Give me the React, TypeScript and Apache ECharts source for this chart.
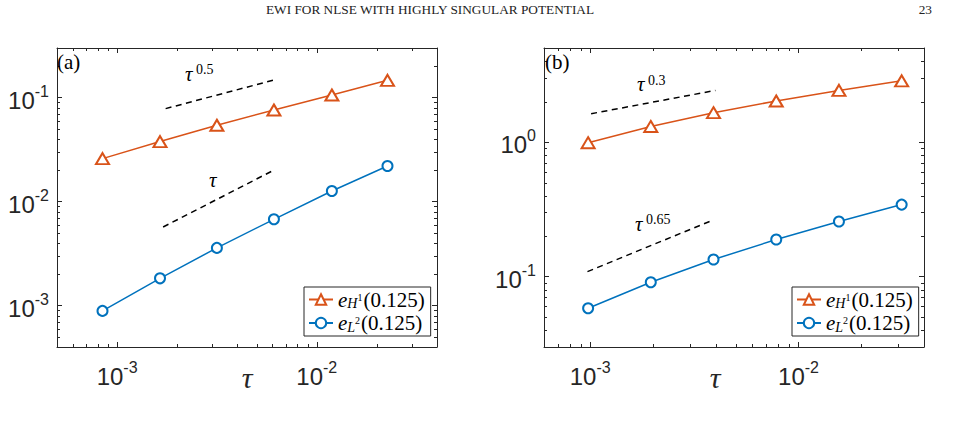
import React, { useEffect, useRef } from 'react';
import * as echarts from 'echarts';

// ---------- data ----------
const tauA = [8.45e-4, 1.64e-3, 3.16e-3, 6.1e-3, 1.19e-2, 2.26e-2];
const errH1A = [0.0259, 0.0378, 0.0542, 0.076, 0.106, 0.1466];
const errL2A = [8.9e-4, 1.83e-3, 3.59e-3, 6.76e-3, 0.01264, 0.022];

const tauB = [9.77e-4, 1.953e-3, 3.906e-3, 7.813e-3, 1.5625e-2, 3.125e-2];
const errH1B = [0.989, 1.306, 1.653, 2.02, 2.42, 2.85];
const errL2B = [0.0582, 0.0908, 0.134, 0.1886, 0.2566, 0.343];

// reference slope lines [tau, value]
const refA_half = [[1.75e-3, 0.0784], [6.1e-3, 0.1476]];
const refA_one = [[1.7e-3, 5.7e-3], [6.1e-3, 0.0201]];
const refB_03 = [[1.01e-3, 1.624], [3.99e-3, 2.42]];
const refB_065 = [[9.7e-4, 0.109], [3.9e-3, 0.264]];

// axis ranges
const xRangeA = [5e-4, 0.04];
const yRangeA = [4e-4, 0.3];
const xRangeB = [6e-4, 0.04];
const yRangeB = [0.03, 5];

// minor tick positions
const minorXA = [6e-4, 7e-4, 8e-4, 9e-4, 2e-3, 3e-3, 4e-3, 5e-3, 6e-3, 7e-3, 8e-3, 9e-3, 2e-2, 3e-2];
const minorYA = [5e-4, 6e-4, 7e-4, 8e-4, 9e-4, 2e-3, 3e-3, 4e-3, 5e-3, 6e-3, 7e-3, 8e-3, 9e-3,
  2e-2, 3e-2, 4e-2, 5e-2, 6e-2, 7e-2, 8e-2, 9e-2, 2e-1];
const minorXB = [7e-4, 8e-4, 9e-4, 2e-3, 3e-3, 4e-3, 5e-3, 6e-3, 7e-3, 8e-3, 9e-3, 2e-2, 3e-2];
const minorYB = [4e-2, 5e-2, 6e-2, 7e-2, 8e-2, 9e-2, 0.2, 0.3, 0.4, 0.5, 0.6, 0.7, 0.8, 0.9, 2, 3, 4];

const legendNames: Record<string, string> = {
  H1a: '{e|e}{sub|H}{sup|1}{t|(0.125)}',
  L2a: '{e|e}{sub|L}{sup|2}{t|(0.125)}',
  H1b: '{e|e}{sub|H}{sup|1}{t|(0.125)}',
  L2b: '{e|e}{sub|L}{sup|2}{t|(0.125)}',
};

// ---------- styles ----------
const ORANGE = '#D95319';
const BLUE = '#0072BD';
const AX = '#262626';
const SANS = 'Liberation Sans, Arial, Helvetica, sans-serif';
const SERIF = 'Liberation Serif, Times New Roman, serif';

const zip = (xs: number[], ys: number[]) => xs.map((x, i) => [x, ys[i]]);

const powFmt = (v: number) => {
  const l = Math.log10(v);
  const e = Math.round(l);
  if (Math.abs(l - e) > 1e-6) return '';
  return `{b|10}{s|${e}}`;
};

const powRich = {
  b: { fontFamily: SANS, fontSize: 24, color: AX, verticalAlign: 'bottom' },
  s: { fontFamily: SANS, fontSize: 16, color: AX, verticalAlign: 'top', padding: [0, 0, 13, 0] },
};

const makeXAxes = (grid: number, range: number[]) => [
  {
    type: 'log', logBase: 10, gridIndex: grid, min: range[0], max: range[1], position: 'bottom',
    axisLine: { show: true, onZero: false, lineStyle: { color: AX, width: 1 } },
    axisTick: { show: true, inside: true, length: 5, lineStyle: { color: AX } },
    axisLabel: { formatter: powFmt, rich: powRich, margin: 12, color: AX },
    splitLine: { show: false },
  },
  {
    type: 'log', logBase: 10, gridIndex: grid, min: range[0], max: range[1], position: 'top',
    axisLine: { show: true, onZero: false, lineStyle: { color: AX, width: 1 } },
    axisTick: { show: true, inside: true, length: 5, lineStyle: { color: AX } },
    axisLabel: { show: false },
    splitLine: { show: false },
  },
];

const makeYAxes = (grid: number, range: number[]) => [
  {
    type: 'log', logBase: 10, gridIndex: grid, min: range[0], max: range[1], position: 'left',
    axisLine: { show: true, onZero: false, lineStyle: { color: AX, width: 1 } },
    axisTick: { show: true, inside: true, length: 5, lineStyle: { color: AX } },
    axisLabel: { formatter: powFmt, rich: powRich, margin: 8, color: AX },
    splitLine: { show: false },
  },
  {
    type: 'log', logBase: 10, gridIndex: grid, min: range[0], max: range[1], position: 'right',
    axisLine: { show: true, onZero: false, lineStyle: { color: AX, width: 1 } },
    axisTick: { show: true, inside: true, length: 5, lineStyle: { color: AX } },
    axisLabel: { show: false },
    splitLine: { show: false },
  },
];

const minorX = (xi: number, yi: number, vals: number[], yRef: number) => ({
  type: 'custom', xAxisIndex: xi, yAxisIndex: yi, silent: true, clip: false, z: 5,
  data: vals.map((v) => [v, yRef]),
  renderItem: (params: any, api: any) => {
    const p = api.coord([api.value(0), api.value(1)]);
    const cs = params.coordSys;
    const x = Math.round(p[0]) + 0.5;
    const st = { stroke: AX, lineWidth: 1 };
    return {
      type: 'group',
      children: [
        { type: 'line', shape: { x1: x, y1: cs.y + cs.height, x2: x, y2: cs.y + cs.height - 3 }, style: st },
        { type: 'line', shape: { x1: x, y1: cs.y, x2: x, y2: cs.y + 3 }, style: st },
      ],
    };
  },
});

const minorY = (xi: number, yi: number, vals: number[], xRef: number) => ({
  type: 'custom', xAxisIndex: xi, yAxisIndex: yi, silent: true, clip: false, z: 5,
  data: vals.map((v) => [xRef, v]),
  renderItem: (params: any, api: any) => {
    const p = api.coord([api.value(0), api.value(1)]);
    const cs = params.coordSys;
    const y = Math.round(p[1]) + 0.5;
    const st = { stroke: AX, lineWidth: 1 };
    return {
      type: 'group',
      children: [
        { type: 'line', shape: { x1: cs.x, y1: y, x2: cs.x + 3, y2: y }, style: st },
        { type: 'line', shape: { x1: cs.x + cs.width, y1: y, x2: cs.x + cs.width - 3, y2: y }, style: st },
      ],
    };
  },
});

const dataSeries = (name: string, xi: number, yi: number, xs: number[], ys: number[], color: string, tri: boolean) => ({
  name, type: 'line', xAxisIndex: xi, yAxisIndex: yi, data: zip(xs, ys),
  symbol: tri ? 'emptyTriangle' : 'emptyCircle',
  symbolSize: tri ? [13, 11] : 10,
  showAllSymbol: true,
  lineStyle: { color, width: 1.5 },
  itemStyle: { color, borderWidth: 1.5 },
  z: 3,
});

const refSeries = (xi: number, yi: number, pts: number[][]) => ({
  type: 'line', xAxisIndex: xi, yAxisIndex: yi, data: pts, symbol: 'none', silent: true,
  lineStyle: { color: '#000', width: 1.5, type: [6, 4.5] },
  z: 2,
});

const legendRich = {
  e: { fontFamily: SERIF, fontStyle: 'italic', fontSize: 21, color: '#000' },
  sub: { fontFamily: SERIF, fontStyle: 'italic', fontSize: 14, color: '#000', padding: [8, 0, 0, 0] },
  sup: { fontFamily: SERIF, fontSize: 10, color: '#000', padding: [0, 1, 5, 0] },
  t: { fontFamily: SERIF, fontSize: 21, color: '#000' },
};

const makeLegend = (left: number, data: string[]) => ({
  orient: 'vertical', left, top: 287, data,
  itemWidth: 24, itemHeight: 13, itemGap: 2, itemTextGap: 3,
  padding: [2, 6, 2, 4],
  borderColor: AX, borderWidth: 1, backgroundColor: '#fff',
  formatter: (n: string) => legendNames[n],
  textStyle: { rich: legendRich },
  selectedMode: false,
});

const txt = (x: number, y: number, text: string, size: number, opts: any = {}) => ({
  type: 'text', x, y, silent: true, z: 10,
  style: {
    text, fontSize: size, fontFamily: opts.family || SERIF, fontStyle: opts.italic ? 'italic' : 'normal',
    fill: opts.color || '#000', textAlign: opts.align || 'left', align: opts.align || 'left',
    textVerticalAlign: 'middle', verticalAlign: 'middle',
  },
});

export default function App() {
  const ref = useRef<HTMLDivElement>(null);
  useEffect(() => {
    if (!ref.current) return;
    const chart = echarts.init(ref.current, undefined, { renderer: 'svg' });
    const option: any = {
      animation: false,
      backgroundColor: '#fff',
      grid: [
        { left: 57, top: 48, width: 380, height: 299 },
        { left: 544, top: 48, width: 380, height: 299 },
      ],
      xAxis: [...makeXAxes(0, xRangeA), ...makeXAxes(1, xRangeB)],
      yAxis: [...makeYAxes(0, yRangeA), ...makeYAxes(1, yRangeB)],
      legend: [makeLegend(304, ['H1a', 'L2a']), makeLegend(792, ['H1b', 'L2b'])],
      series: [
        refSeries(0, 0, refA_half),
        refSeries(0, 0, refA_one),
        dataSeries('H1a', 0, 0, tauA, errH1A, ORANGE, true),
        dataSeries('L2a', 0, 0, tauA, errL2A, BLUE, false),
        refSeries(2, 2, refB_03),
        refSeries(2, 2, refB_065),
        dataSeries('H1b', 2, 2, tauB, errH1B, ORANGE, true),
        dataSeries('L2b', 2, 2, tauB, errL2B, BLUE, false),
        minorX(0, 0, minorXA, yRangeA[0]),
        minorY(0, 0, minorYA, xRangeA[0]),
        minorX(2, 2, minorXB, yRangeB[0]),
        minorY(2, 2, minorYB, xRangeB[0]),
      ],
      graphic: [
        txt(430, 9, 'EWI FOR NLSE WITH HIGHLY SINGULAR POTENTIAL', 13.3, { align: 'center', color: '#222' }),
        txt(932, 9, '23', 13.3, { align: 'right', color: '#222' }),
        txt(57, 62, '(a)', 21),
        txt(545, 62, '(b)', 21),
        // annotations panel a
        txt(185, 74, 'τ', 21, { italic: true }),
        txt(196, 69.5, '0.5', 14),
        txt(209, 180, 'τ', 21, { italic: true }),
        // annotations panel b
        txt(637, 84, 'τ', 21, { italic: true }),
        txt(648, 80, '0.3', 14),
        txt(635, 224, 'τ', 21, { italic: true }),
        txt(646, 219.5, '0.65', 14),
        // axis names
        txt(247, 377, 'τ', 30, { italic: true, align: 'center', color: AX }),
        txt(715, 377, 'τ', 30, { italic: true, align: 'center', color: AX }),
      ],
    };
    chart.setOption(option);
    return () => chart.dispose();
  }, []);
  return <div ref={ref} style={{ position: 'fixed', left: 0, top: 0, width: 961, height: 421 }} />;
}
